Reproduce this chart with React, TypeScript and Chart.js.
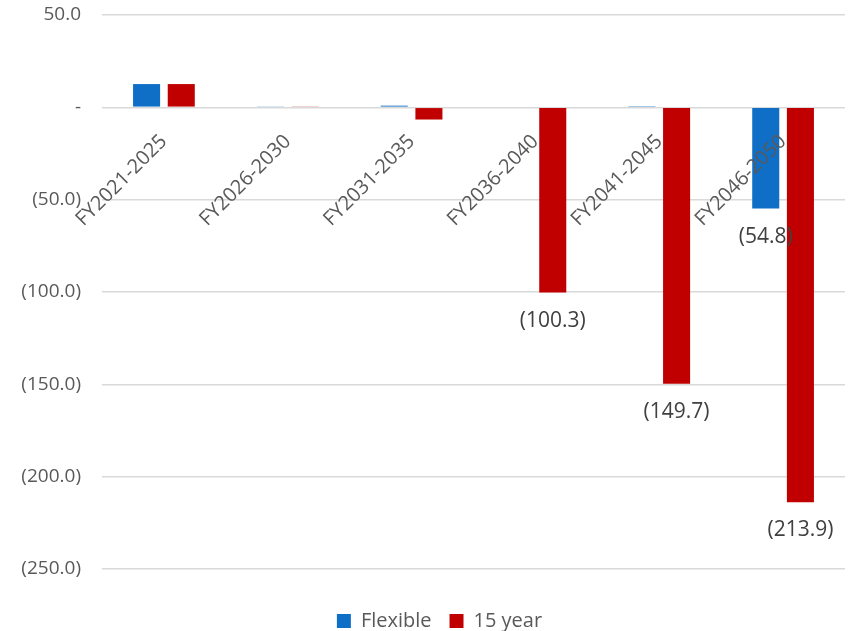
import React, { useEffect, useRef } from "react";
import { Chart, registerables } from "chart.js";

Chart.register(...registerables);

const categories = ["FY2021-2025", "FY2026-2030", "FY2031-2035", "FY2036-2040", "FY2041-2045", "FY2046-2050"];
const flexible = [12.6, 0.5, 0.9, 0.4, 0.2, -54.8];
const fifteenYear = [12.6, 0.5, -6.6, -100.3, -149.7, -213.9];
const yMin = -250;
const yMax = 50;
const yStep = 50;

const FONT = "'Open Sans', Lato, sans-serif";
const TEXT = "#595959";

function fmt(v: number): string {
  if (v === 0) return "-";
  if (v < 0) return "(" + Math.abs(v).toFixed(1) + ")";
  return v.toFixed(1);
}

const categoryLabelPlugin = {
  id: "categoryLabels",
  afterDatasetsDraw(chart: any) {
    const { ctx, scales } = chart;
    const x = scales.x;
    const y = scales.y;
    const y0 = y.getPixelForValue(0);
    ctx.save();
    ctx.font = "20px " + FONT;
    ctx.fillStyle = TEXT;
    ctx.textAlign = "right";
    ctx.textBaseline = "middle";
    categories.forEach((c, i) => {
      const px = x.getPixelForValue(i);
      ctx.save();
      ctx.translate(px, y0 + 31);
      ctx.rotate(-Math.PI / 4);
      ctx.fillText(c, 0, 0);
      ctx.restore();
    });
    ctx.restore();
  },
};

const dataLabelPlugin = {
  id: "dataLabels",
  afterDatasetsDraw(chart: any) {
    const { ctx } = chart;
    ctx.save();
    ctx.font = "21px " + FONT;
    ctx.fillStyle = "#404040";
    ctx.textAlign = "center";
    ctx.textBaseline = "middle";
    chart.data.datasets.forEach((ds: any, di: number) => {
      const meta = chart.getDatasetMeta(di);
      meta.data.forEach((bar: any, i: number) => {
        const v = ds.data[i];
        if (v > -50) return;
        ctx.fillText(fmt(v), bar.x, bar.y + 28);
      });
    });
    ctx.restore();
  },
};

const legendShiftPlugin = {
  id: "legendShift",
  afterLayout(chart: any) {
    if (chart.legend) {
      chart.legend.left += 17;
      chart.legend.right += 17;
    }
  },
};

export default function App() {
  const ref = useRef<HTMLCanvasElement>(null);
  useEffect(() => {
    document.body.style.margin = "0";
    const chart = new Chart(ref.current!, {
      type: "bar",
      data: {
        labels: categories,
        datasets: [
          { label: "Flexible", data: flexible, backgroundColor: "#0F6FC6", categoryPercentage: 0.56, barPercentage: 0.78 },
          { label: "15 year", data: fifteenYear, backgroundColor: "#C00000", categoryPercentage: 0.56, barPercentage: 0.78 },
        ],
      },
      options: {
        animation: false,
        responsive: false,
        layout: { padding: { top: 0, right: 4, bottom: -10, left: 0 } },
        plugins: {
          tooltip: { enabled: false },
          legend: {
            position: "bottom",
            labels: {
              font: { family: FONT, size: 20 },
              color: TEXT,
              boxWidth: 14,
              boxHeight: 14,
              padding: 18,
            },
          },
        },
        scales: {
          x: {
            display: true,
            ticks: { display: false },
            grid: { display: false },
            border: { display: false },
            afterFit(scale: any) {
              scale.height = 24;
            },
          },
          y: {
            min: yMin,
            max: yMax,
            afterFit(scale: any) {
              scale.width = 102;
              scale.paddingTop = 15;
              scale.paddingBottom = 0;
            },
            ticks: {
              stepSize: yStep,
              padding: 21,
              color: TEXT,
              font: { family: FONT, size: 19 },
              callback: (v: any) => fmt(Number(v)),
            },
            grid: { color: "#d9d9d9", lineWidth: 1.5, drawTicks: false },
            border: { display: false },
          },
        },
      },
      plugins: [categoryLabelPlugin, dataLabelPlugin, legendShiftPlugin],
    });
    return () => chart.destroy();
  }, []);
  return <canvas ref={ref} width={849} height={631} style={{ display: "block" }} />;
}
